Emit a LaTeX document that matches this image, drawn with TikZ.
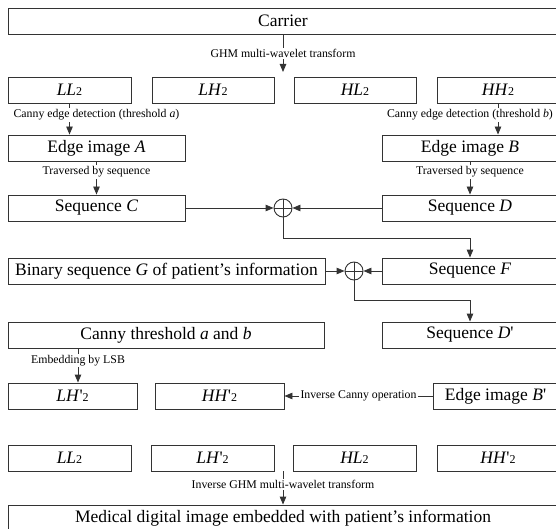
\documentclass[tikz,border=0pt]{standalone}
\usepackage{fontspec}
\setmainfont{Liberation Serif}
\usetikzlibrary{arrows.meta}
\newcommand\stwo{{\fontsize{12}{12}\selectfont 2}}
\newcommand\prm{\textquotesingle}
\begin{document}
\begin{tikzpicture}[x=1pt,y=-1pt,
  box/.style={draw=black!80,line width=0.9pt,minimum height=26pt,inner sep=0pt,font=\fontsize{17.5}{20}\selectfont},
  lbl/.style={fill=white,inner sep=1.2pt,font=\fontsize{11.8}{13}\selectfont},
  arr/.style={draw=black!80,line width=0.9pt,-{Triangle[length=8pt,width=6.5pt]}},
  xo/.style={circle,draw=black!80,line width=0.9pt,minimum size=18pt,inner sep=0pt,
    path picture={\draw[black!80,line width=0.9pt] (path picture bounding box.north) -- (path picture bounding box.south) (path picture bounding box.west) -- (path picture bounding box.east);}}
]
\useasboundingbox (0,0) rectangle (556,529);
% boxes
\node[box,minimum width=550pt] (carrier) at (283,21) {Carrier};
\node[box,minimum width=123pt] (ll) at (69.5,90) {\textit{LL}\stwo};
\node[box,minimum width=122pt] (lh) at (213,90) {\textit{LH}\stwo};
\node[box,minimum width=122pt] (hl) at (355,90) {\textit{HL}\stwo};
\node[box,minimum width=122pt] (hh) at (498,90) {\textit{HH}\stwo};
\node[box,minimum width=177pt] (edgeA) at (96.5,148) {Edge image \textit{A}};
\node[box,minimum width=176pt] (edgeB) at (470,148) {Edge image \textit{B}};
\node[box,minimum width=177pt] (seqC) at (96.5,208) {Sequence \textit{C}};
\node[box,minimum width=176pt] (seqD) at (470,208) {Sequence \textit{D}};
\node[box,minimum width=317pt] (binG) at (166.5,271) {Binary sequence \textit{G} of patient’s information};
\node[box,minimum width=176pt] (seqF) at (470,271) {Sequence \textit{F}};
\node[box,minimum width=316pt] (canny) at (166,335) {Canny threshold \textit{a} and \textit{b}};
\node[box,minimum width=176pt] (seqDp) at (470,335) {Sequence \textit{D}\prm};
\node[box,minimum width=129pt] (lhp) at (72.5,396) {\textit{LH}\prm\stwo};
\node[box,minimum width=129pt] (hhp) at (219.5,396) {\textit{HH}\prm\stwo};
\node[box,minimum width=125pt] (edgeBp) at (495.5,396) {Edge image \textit{B}\prm};
\node[box,minimum width=123pt] (ll5) at (69.5,458) {\textit{LL}\stwo};
\node[box,minimum width=123pt] (lhp5) at (212.5,458) {\textit{LH}\prm\stwo};
\node[box,minimum width=123pt] (hl5) at (354.5,458) {\textit{HL}\stwo};
\node[box,minimum width=122pt] (hhp5) at (498,458) {\textit{HH}\prm\stwo};
\node[box,minimum width=550pt] (final) at (283,518) {Medical digital image embedded with patient’s information};
\node[xo] (x1) at (283,208) {};
\node[xo] (x2) at (354,271) {};
\coordinate (g1) at (283,72);
\coordinate (e1) at (78,348);
\coordinate (g2) at (283,471);
% connectors
\draw[arr] (carrier.south) -- (g1) node[lbl,pos=0.5] (tghm) {GHM multi-wavelet transform};
\draw[arr] (ll.south) -- (ll.south |- edgeA.north);
\draw[arr] (hh.south) -- (hh.south |- edgeB.north);
\node[lbl] (tca) at (96.5,115) {Canny edge detection (threshold \textit{a})};
\node[lbl] (tcb) at (470,115) {Canny edge detection (threshold \textit{b})};
\draw[arr] (edgeA.south) -- (seqC.north) node[lbl,pos=0.32] (tta) {Traversed by sequence};
\draw[arr] (edgeB.south) -- (seqD.north) node[lbl,pos=0.32] (ttb) {Traversed by sequence};
\draw[arr] (seqC.east) -- (x1.west);
\draw[arr] (seqD.west) -- (x1.east);
\draw[arr] (x1.south) -- ++(0,21) -| (seqF.north);
\draw[arr] (binG.east) -- (x2.west);
\draw[arr] (seqF.west) -- (x2.east);
\draw[arr] (x2.south) -- ++(0,20) -| (seqDp.north);
\draw[arr] (e1) -- (e1 |- lhp.north) node[lbl,pos=0.37] (temb) {Embedding by LSB};
\draw[arr] (edgeBp.west) -- (hhp.east) node[lbl,midway] (tinv) {Inverse Canny operation};
\draw[arr] (g2) -- (g2 |- final.north) node[lbl,pos=0.41] (tig) {Inverse GHM multi-wavelet transform};
\end{tikzpicture}
\end{document}
